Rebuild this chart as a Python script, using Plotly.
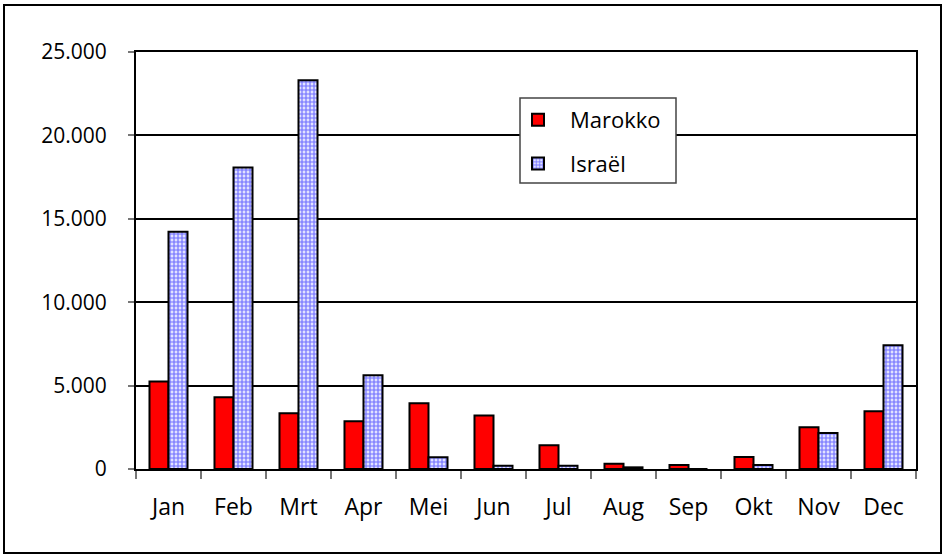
import plotly.graph_objects as go

months = ["Jan", "Feb", "Mrt", "Apr", "Mei", "Jun", "Jul", "Aug", "Sep", "Okt", "Nov", "Dec"]
marokko = [5240, 4300, 3340, 2860, 3940, 3200, 1420, 320, 240, 720, 2500, 3460]
israel = [14230, 18070, 23300, 5620, 700, 200, 200, 100, 0, 240, 2160, 7420]
y_ticks = [0, 5000, 10000, 15000, 20000, 25000]

FONT = "Open Sans"

# plot area in page pixels: x 136..916, y 52..469
L, R, T, B = 136, 916, 52, 469
W, H = R - L, B - T


def px(xp):
    return (xp - L) / W


def py(yp):
    return (B - yp) / H


fig = go.Figure()
fig.add_trace(go.Bar(
    x=months, y=marokko, name="Marokko",
    marker=dict(color="#FF0000", line=dict(color="black", width=2)),
    legendgroup="a",
))
fig.add_trace(go.Bar(
    x=months, y=israel, name="Israël",
    marker=dict(color="#e2e2ff", line=dict(color="black", width=2),
                pattern=dict(shape="+", fgcolor="#0000FF",
                             size=4, solidity=0.5, fillmode="overlay")),
    legendgroup="b",
))

# outer frame
fig.add_shape(type="rect", xref="paper", yref="paper",
              x0=px(4), x1=px(941), y0=py(553), y1=py(5),
              line=dict(color="black", width=2), fillcolor="rgba(0,0,0,0)", layer="below")
# legend box
fig.add_shape(type="rect", xref="paper", yref="paper",
              x0=px(520), x1=px(676), y0=py(183), y1=py(98),
              line=dict(color="#444", width=1.5), fillcolor="white", layer="above")

fig.update_layout(
    width=946, height=557,
    margin=dict(l=L, r=946 - R, t=T, b=557 - B),
    paper_bgcolor="white", plot_bgcolor="white",
    separators=",.",
    barmode="group", bargap=0.415, bargroupgap=0,
    font=dict(family=FONT, color="black", size=20),
    showlegend=True,
    legend=dict(
        x=px(506), y=py(99), xanchor="left", yanchor="top",
        bgcolor="rgba(0,0,0,0)", borderwidth=0,
        font=dict(family=FONT, size=22, color="black"),
        tracegroupgap=12, traceorder="grouped", itemwidth=54,
    ),
    xaxis=dict(
        showline=True, linecolor="black", linewidth=2, mirror=True,
        ticks="outside", tickson="boundaries", ticklen=8, tickcolor="#777", tickwidth=2,
        tickfont=dict(family=FONT, size=23, color="black"),
        ticklabelstandoff=16,
    ),
    yaxis=dict(
        range=[0, 25000], tickvals=y_ticks, tickformat=",d",
        showgrid=True, gridcolor="black", gridwidth=1.5,
        showline=True, linecolor="black", linewidth=2, mirror=True,
        ticks="outside", ticklen=6, tickcolor="#777", tickwidth=1.5,
        tickfont=dict(family=FONT, size=21, color="black"),
        ticklabelstandoff=17, zeroline=False,
    ),
)

fig.write_html("out.html", config={"displayModeBar": False},
               post_script="document.body.style.margin='0';")
